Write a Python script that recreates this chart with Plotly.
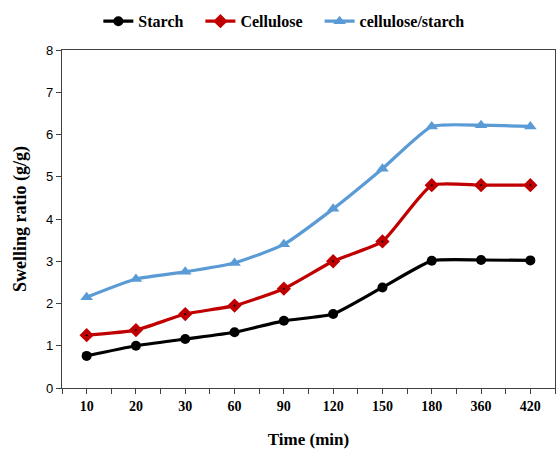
import plotly.graph_objects as go

# Sampling times (min), shown as evenly spaced categories
times = ["10", "20", "30", "60", "90", "120", "150", "180", "360", "420"]

# Swelling ratio (g/g) for each material
starch = [0.76, 1.00, 1.16, 1.32, 1.59, 1.75, 2.38, 3.01, 3.03, 3.02]
cellulose = [1.25, 1.37, 1.75, 1.95, 2.35, 3.00, 3.47, 4.80, 4.80, 4.80]
blend = [2.15, 2.58, 2.75, 2.96, 3.40, 4.24, 5.19, 6.19, 6.22, 6.19]

y_ticks = [0, 1, 2, 3, 4, 5, 6, 7, 8]

serif = "Liberation Serif, Times New Roman, serif"
narrow = "Liberation Sans Narrow, Arial Narrow, Liberation Sans, sans-serif"
axis_col = "#404040"
gap = "\u00a0\u00a0\u00a0"  # extra room between legend entries

pos = list(range(len(times)))

fig = go.Figure()

fig.add_trace(go.Scatter(
    x=pos, y=starch, name="Starch" + gap, mode="lines+markers",
    line=dict(color="#000000", width=3.2, shape="spline", smoothing=0.5),
    marker=dict(symbol="circle", size=10, color="#000000"),
))
fig.add_trace(go.Scatter(
    x=pos, y=cellulose, name="Cellulose" + gap, mode="lines+markers",
    line=dict(color="#C00000", width=3.2, shape="spline", smoothing=0.5),
    marker=dict(symbol="diamond", size=11, color="#C00000"),
))
# small dark centre dot on the diamond markers
fig.add_trace(go.Scatter(
    x=pos, y=cellulose, mode="markers", showlegend=False, hoverinfo="skip",
    marker=dict(symbol="circle", size=2, color="#000000"),
))
fig.add_trace(go.Scatter(
    x=pos, y=blend, name="cellulose/starch", mode="lines+markers",
    line=dict(color="#5B9BD5", width=3.2, shape="spline", smoothing=0.5),
    marker=dict(symbol="triangle-up", size=11, color="#5B9BD5"),
))

# ticks at both category centres and boundaries, labels only at centres
tick_vals = [i * 0.5 - 0.5 for i in range(2 * len(times) + 1)]
tick_text = []
for v in tick_vals:
    if float(v).is_integer():
        tick_text.append(times[int(v)])
    else:
        tick_text.append("")

fig.update_layout(
    width=559, height=452,
    margin=dict(l=62, r=4, t=50, b=64),
    paper_bgcolor="white", plot_bgcolor="white",
    showlegend=True,
    legend=dict(
        orientation="h", x=0.45, xanchor="center", y=1.085, yanchor="middle",
        bgcolor="rgba(0,0,0,0)",
        font=dict(family=serif, size=16, color="#000000", weight="bold"),
        itemwidth=30, traceorder="normal",
    ),
    xaxis=dict(
        range=[-0.5, len(times) - 0.5],
        tickmode="array", tickvals=tick_vals, ticktext=tick_text,
        ticks="outside", ticklen=5, tickcolor=axis_col, tickwidth=1,
        showline=True, linecolor=axis_col, linewidth=1.2, mirror=True,
        showgrid=False, zeroline=False,
        tickfont=dict(family=serif, size=14, color="#000000", weight="bold"),
        title=dict(text="<b>Time (min)</b>", font=dict(family=serif, size=17, color="#000000"), standoff=20),
    ),
    yaxis=dict(
        range=[0, 8],
        tickmode="array", tickvals=y_ticks,
        ticks="outside", ticklen=5, tickcolor=axis_col, tickwidth=1,
        showline=True, linecolor=axis_col, linewidth=1.2, mirror=True,
        showgrid=False, zeroline=False,
        tickfont=dict(family=narrow, size=13, color="#000000"),
        title=dict(text="<b>Swelling ratio (g/g)</b>", font=dict(family=serif, size=18, color="#000000"), standoff=14),
    ),
)

fig.write_html("out.html")
